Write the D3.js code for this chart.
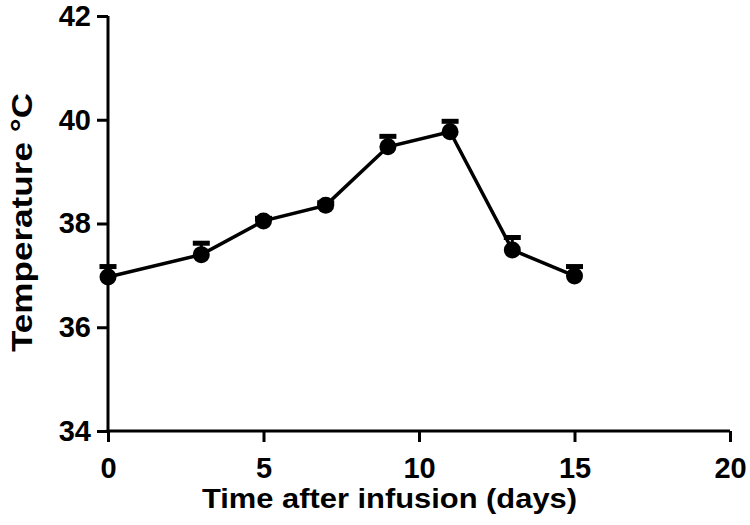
<!DOCTYPE html>
<html><head><meta charset="utf-8">
<script src="https://cdn.jsdelivr.net/npm/d3@7"></script>
<style>body{margin:0;background:#fff}svg{display:block}</style>
</head><body>
<svg id="c" width="750" height="525"></svg>
<script>
const days = [0, 3, 5, 7, 9, 11, 13, 15];
const temps = [36.97, 37.40, 38.05, 38.35, 39.48, 39.77, 37.49, 36.99];
const sems = [0.2, 0.22, 0.05, 0.05, 0.2, 0.2, 0.24, 0.18];
const xTicks = [0, 5, 10, 15, 20];
const yTicks = [34, 36, 38, 40, 42];

const svg = d3.select("#c");
const x = d3.scaleLinear().domain([0, 20]).range([108, 730]);
const y = d3.scaleLinear().domain([34, 42]).range([431, 16]);
const font = "'Liberation Sans', Arial, sans-serif";

const xa = svg.append("g").attr("transform", `translate(0,${y(34)})`)
  .call(d3.axisBottom(x).tickValues(xTicks).tickSize(11).tickPadding(15).tickSizeOuter(0));
const ya = svg.append("g").attr("transform", `translate(${x(0)},0)`)
  .call(d3.axisLeft(y).tickValues(yTicks).tickSize(11).tickPadding(6).tickSizeOuter(0));
[xa, ya].forEach(a => {
  a.select(".domain").attr("stroke", "#000").attr("stroke-width", 3);
  a.selectAll(".tick line").attr("stroke", "#000").attr("stroke-width", 3);
  a.selectAll(".tick text").attr("fill", "#000").style("font-family", font)
    .style("font-weight", "bold").style("font-size", "29px");
});
xa.select(".domain").attr("d", `M${x(0)-1.5},0H${x(20)}`);
ya.select(".domain").attr("d", `M0,${y(42)}V${y(34)+1.5}`);

const data = days.map((d, i) => ({d, t: temps[i], e: sems[i]}));

const eb = svg.append("g");
eb.selectAll("line.stem").data(data).join("line")
  .attr("x1", d => x(d.d)).attr("x2", d => x(d.d))
  .attr("y1", d => y(d.t)).attr("y2", d => y(d.t + d.e))
  .attr("stroke", "#000").attr("stroke-width", 3);
eb.selectAll("line.cap").data(data).join("line")
  .attr("x1", d => x(d.d) - 8.5).attr("x2", d => x(d.d) + 8.5)
  .attr("y1", d => y(d.t + d.e)).attr("y2", d => y(d.t + d.e))
  .attr("stroke", "#000").attr("stroke-width", 5);

svg.append("path").datum(data)
  .attr("d", d3.line().x(d => x(d.d)).y(d => y(d.t)))
  .attr("fill", "none").attr("stroke", "#000").attr("stroke-width", 3.5);

svg.append("g").selectAll("circle").data(data).join("circle")
  .attr("cx", d => x(d.d)).attr("cy", d => y(d.t)).attr("r", 8.5).attr("fill", "#000");

svg.append("text").attr("x", 389.5).attr("y", 508)
  .attr("text-anchor", "middle").style("font-family", font).style("font-weight", "bold")
  .style("font-size", "28px").attr("textLength", 375).attr("lengthAdjust", "spacingAndGlyphs")
  .text("Time after infusion (days)");

svg.append("text").attr("transform", `translate(32,222.5) rotate(-90)`)
  .attr("text-anchor", "middle").style("font-family", font).style("font-weight", "bold")
  .style("font-size", "30px").attr("textLength", 259).attr("lengthAdjust", "spacingAndGlyphs")
  .text("Temperature °C");
</script>
</body></html>
